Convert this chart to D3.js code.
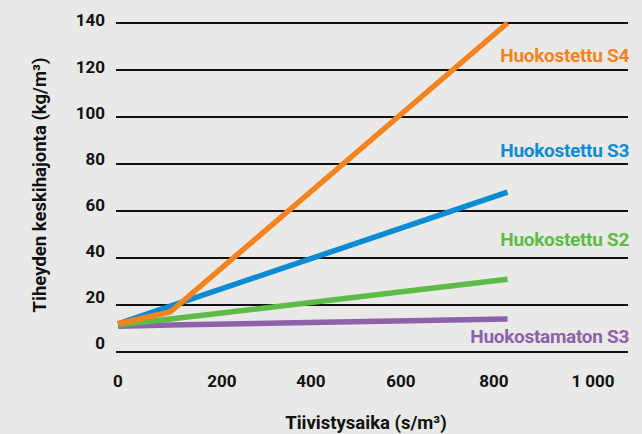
<!DOCTYPE html>
<html>
<head>
<meta charset="utf-8">
<script src="https://cdn.jsdelivr.net/npm/d3@7"></script>
<style>
  html, body { margin: 0; padding: 0; background: #e9e9e7; }
  svg { display: block; }
  text { font-family: Roboto, "Noto Sans", sans-serif; font-weight: 700; }
</style>
</head>
<body>
<svg id="chart" width="642" height="434"></svg>
<script>
// Compaction time (s/m³) at which each series is sampled
const times = [0, 110, 820];

// Standard deviation of density (kg/m³) per series
const s4Air   = [12, 17, 140];
const s3Air   = [12, 19.5, 68];
const s2Air   = [11.5, 14, 31];
const s3NoAir = [11, 11.5, 14];

const seriesNames  = ["Huokostettu S4", "Huokostettu S3", "Huokostettu S2", "Huokostamaton S3"];
const seriesValues = [s4Air, s3Air, s2Air, s3NoAir];
const seriesColors = ["#f5831f", "#0b8bd3", "#5dbb47", "#8d62aa"];

const yTicks = [0, 20, 40, 60, 80, 100, 120, 140];
const xTicks = [0, 200, 400, 600, 800, 1000];
const xTickLabels = ["0", "200", "400", "600", "800", "1 000"];

const svg = d3.select("#chart");

const x = d3.scaleLinear().domain([0, 1000]).range([118, 593]);
const y = d3.scaleLinear().domain([0, 140]).range([352, 23]);
// tick labels are typeset at their own, slightly uneven positions
const xLab = d3.scaleLinear().domain(xTicks).range([118, 222, 311, 401, 494, 593]);
const yLab = d3.scaleLinear().domain([0, 140]).range([343.5, 20.5]);

// horizontal gridlines
svg.append("g")
  .selectAll("line")
  .data(yTicks)
  .join("line")
  .attr("x1", 116).attr("x2", 628)
  .attr("y1", d => y(d)).attr("y2", d => y(d))
  .attr("stroke", "#111").attr("stroke-width", 2);

// y tick labels
svg.append("g")
  .selectAll("text")
  .data(yTicks)
  .join("text")
  .attr("x", 105)
  .attr("y", d => yLab(d))
  .attr("dy", "0.35em")
  .attr("text-anchor", "end")
  .attr("font-size", 17)
  .attr("fill", "#111")
  .text(d => d);

// x tick labels
svg.append("g")
  .selectAll("text")
  .data(xTicks)
  .join("text")
  .attr("x", d => xLab(d))
  .attr("y", 387)
  .attr("text-anchor", "middle")
  .attr("font-size", 17)
  .attr("fill", "#111")
  .text((d, i) => xTickLabels[i]);

// axis titles
svg.append("text")
  .attr("x", 366).attr("y", 429)
  .attr("text-anchor", "middle")
  .attr("font-size", 18.5)
  .attr("fill", "#111")
  .text("Tiivistysaika (s/m³)");

svg.append("text")
  .attr("transform", "translate(46,185) rotate(-90)")
  .attr("text-anchor", "middle")
  .attr("font-size", 18.5)
  .attr("fill", "#111")
  .text("Tiheyden keskihajonta (kg/m³)");

// series lines
const line = d3.line()
  .x((d, i) => x(times[i]))
  .y(d => y(d));

const order = [3, 2, 1, 0];
svg.append("g")
  .selectAll("path")
  .data(order)
  .join("path")
  .attr("d", k => line(seriesValues[k]))
  .attr("fill", "none")
  .attr("stroke", k => seriesColors[k])
  .attr("stroke-width", 5.5)
  .attr("stroke-linejoin", "miter");

// series labels
const labelY = [62, 157, 246, 343];
svg.append("g")
  .selectAll("text")
  .data(seriesNames)
  .join("text")
  .attr("x", 629)
  .attr("y", (d, i) => labelY[i])
  .attr("text-anchor", "end")
  .attr("font-size", 19)
  .attr("letter-spacing", -0.3)
  .attr("fill", (d, i) => seriesColors[i])
  .text(d => d);
</script>
</body>
</html>
